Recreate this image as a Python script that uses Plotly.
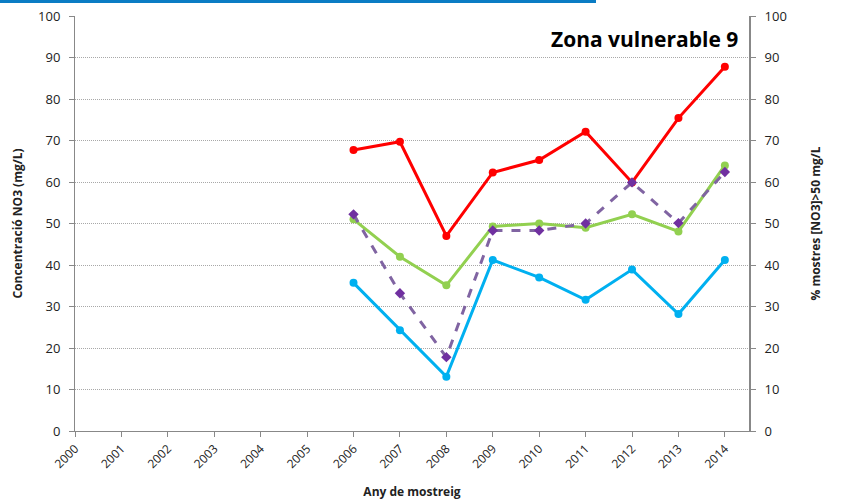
import plotly.graph_objects as go

years = list(range(2000, 2015))
data_years = [2006, 2007, 2008, 2009, 2010, 2011, 2012, 2013, 2014]
red_vals = [67.7, 69.7, 47.0, 62.3, 65.3, 72.1, 59.9, 75.4, 87.8]
green_vals = [51.0, 42.0, 35.1, 49.3, 50.0, 49.0, 52.2, 48.1, 64.0]
blue_vals = [35.7, 24.3, 13.1, 41.2, 37.0, 31.6, 38.9, 28.2, 41.2]
purple_vals = [52.2, 33.2, 17.8, 48.3, 48.3, 50.0, 59.9, 50.1, 62.4]
y_ticks = [0, 10, 20, 30, 40, 50, 60, 70, 80, 90, 100]

FONT = "Open Sans"

fig = go.Figure()
fig.add_trace(go.Scatter(x=data_years, y=red_vals, mode="lines+markers",
                         line=dict(color="#FF0000", width=3),
                         marker=dict(color="#FF0000", size=8, symbol="circle"),
                         showlegend=False))
fig.add_trace(go.Scatter(x=data_years, y=green_vals, mode="lines+markers",
                         line=dict(color="#92D050", width=3),
                         marker=dict(color="#92D050", size=8, symbol="circle"),
                         showlegend=False))
fig.add_trace(go.Scatter(x=data_years, y=blue_vals, mode="lines+markers",
                         line=dict(color="#00B0F0", width=3),
                         marker=dict(color="#00B0F0", size=8, symbol="circle"),
                         showlegend=False))
fig.add_trace(go.Scatter(x=data_years, y=purple_vals, mode="lines+markers",
                         line=dict(color="#8064A2", width=3, dash="dash"),
                         marker=dict(color="#7030A0", size=8, symbol="diamond"),
                         yaxis="y2", showlegend=False))

fig.update_layout(
    width=862, height=500,
    margin=dict(l=75, r=113, t=16, b=69, autoexpand=False),
    paper_bgcolor="white", plot_bgcolor="white",
    font=dict(family=FONT, size=12, color="#222222"),
    xaxis=dict(
        range=[2000, 2014.52], tickmode="array", tickvals=years,
        ticktext=[str(y) for y in years], tickangle=-45,
        ticks="outside", ticklen=5, tickcolor="#888888",
        showline=True, linecolor="#888888", linewidth=1,
        showgrid=False, zeroline=False, automargin=False,
        tickfont=dict(family=FONT, size=12, color="#222222"),
        title=dict(text="<b>Any de mostreig</b>", font=dict(family=FONT, size=12, color="#222222"), standoff=17),
    ),
    yaxis=dict(
        range=[0, 100], tickmode="array", tickvals=y_ticks,
        ticks="outside", ticklen=5, tickcolor="#888888",
        showline=True, linecolor="#888888", linewidth=1,
        showgrid=True, gridcolor="#A8A8A8", griddash="1px,1px", gridwidth=1,
        zeroline=False, automargin=False, ticklabelstandoff=6,
        tickfont=dict(family=FONT, size=13, color="#222222"),
        title=dict(text="<b>Concentració NO3 (mg/L)</b>", font=dict(family=FONT, size=12, color="#222222"), standoff=12),
    ),
    yaxis2=dict(
        range=[0, 100], tickmode="array", tickvals=y_ticks,
        overlaying="y", side="right",
        ticks="outside", ticklen=5, tickcolor="#888888",
        showline=True, linecolor="#888888", linewidth=2,
        showgrid=False, zeroline=False, automargin=False, ticklabelstandoff=6,
        tickfont=dict(family=FONT, size=13, color="#222222"),
        title=dict(text="<b>% mostres [NO3]>50 mg/L</b>", font=dict(family=FONT, size=12, color="#222222"), standoff=26),
    ),
    shapes=[
        dict(type="rect", xref="paper", yref="paper",
             x0=-75/674, x1=(596-75)/674, y0=1 + 13/415, y1=1 + 16/415,
             fillcolor="#0A7CC4", line=dict(width=0), layer="above"),
    ],
    annotations=[
        dict(text="<b>Zona vulnerable 9</b>", xref="paper", yref="paper",
             x=0.987, y=0.945, xanchor="right", yanchor="middle", showarrow=False,
             font=dict(family=FONT, size=21, color="#000000")),
    ],
)

fig.write_html("out.html", config={"displayModeBar": False},
               post_script="document.body.style.margin='0px';document.body.style.overflow='hidden';")
